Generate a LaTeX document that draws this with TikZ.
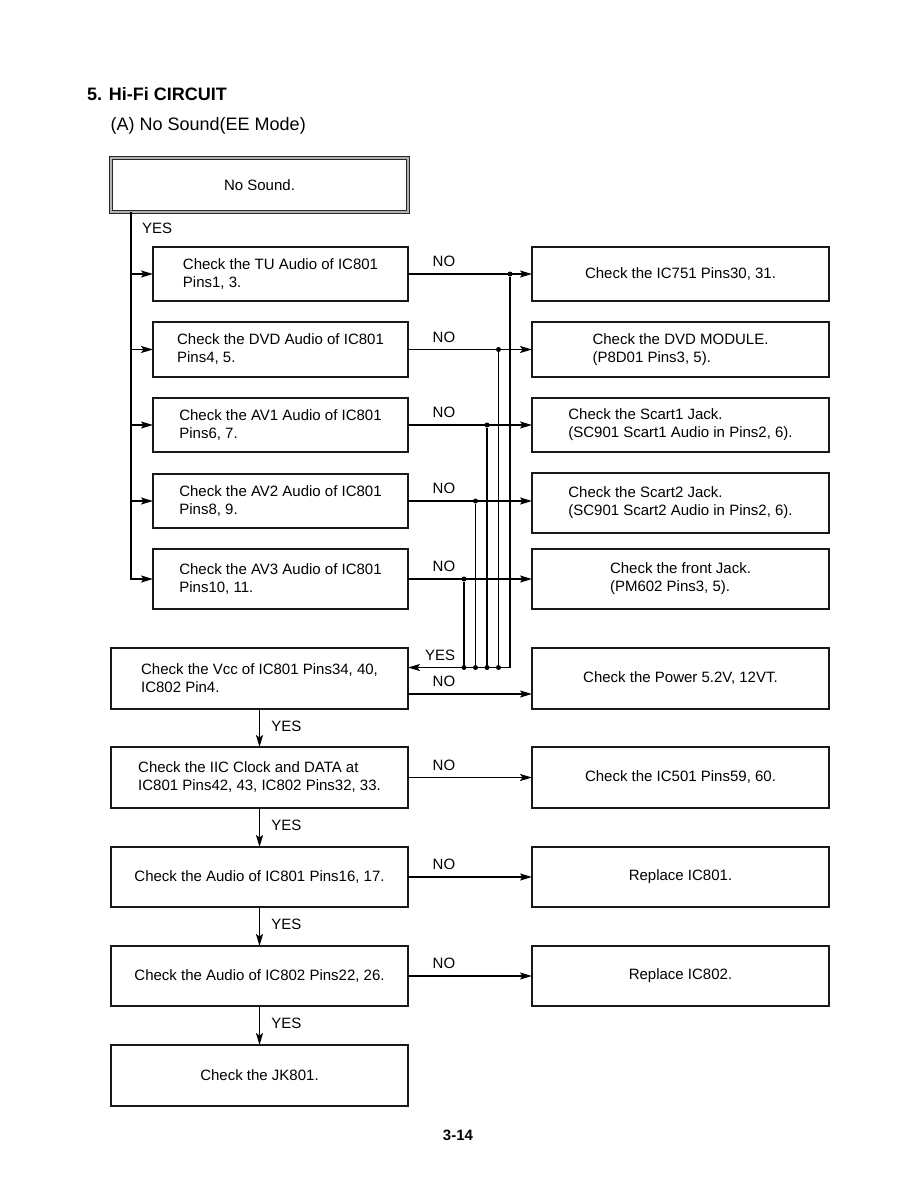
\documentclass[tikz,border=0pt]{standalone}
\usepackage{fontspec}
\setmainfont{Liberation Sans}
\usetikzlibrary{arrows.meta,positioning}
\tikzset{
every picture/.style={line join=miter},
>={Stealth[length=12pt,width=7pt,inset=2.5pt]},
flow box/.style={
  draw=black!90,
  line width=1.4pt,
  align=left,
  inner sep=2pt,
  outer sep=0pt,
  font=\fontsize{15}{18}\selectfont
},
check box/.style={flow box, minimum width=255pt, minimum height=54pt},
wide box/.style={flow box, minimum width=297pt, minimum height=54pt},
start box/.style={wide box, draw=black!85, double=black!30, double distance=1.4pt, line width=0.9pt},
fig flow/.style={draw=black, ->, line width=1.5pt},
bus line/.style={draw=black, line width=1.5pt},
fig label/.style={font=\fontsize{15}{18}\selectfont, inner sep=2pt},
junction/.style={circle, fill=black, inner sep=0pt, minimum size=5pt}
}
\begin{document}
\begin{tikzpicture}[x=1pt,y=-1pt]
\useasboundingbox[fill=white] (0,0) rectangle (915,1191);
% headings
\node[anchor=base west, font=\bfseries\fontsize{18}{21}\selectfont, inner sep=0pt] (title) at (87,100.5) {5. Hi-Fi CIRCUIT};
\node[anchor=base west, font=\fontsize{18}{21}\selectfont, inner sep=0pt] (subtitle) at (110.5,130.5) {(A) No Sound(EE Mode)};
\node[anchor=base, font=\bfseries\fontsize{15}{18}\selectfont, inner sep=0pt] (page) at (458,1140) {3-14};
% input checks
\node[start box] (nosound) at (259.5,185) {No Sound.};
\node[check box] (tu) at (280.5,274) {Check the TU Audio of IC801\\Pins1, 3.};
\node[check box,minimum height=55pt,below=21pt of tu] (dvd) {Check the DVD Audio of IC801\\Pins4, 5.};
\node[check box,below=21pt of dvd] (av1) {Check the AV1 Audio of IC801\\Pins6, 7.};
\node[check box,below=22pt of av1] (av2) {Check the AV2 Audio of IC801\\Pins8, 9.};
\node[check box,minimum height=60pt,below=21pt of av2] (av3) {Check the AV3 Audio of IC801\\Pins10, 11.};
% input faults
\node[wide box,right=124pt of tu] (ic751) {Check the IC751 Pins30, 31.};
\node[wide box,minimum height=55pt,below=21pt of ic751] (module) {Check the DVD MODULE.\\(P8D01 Pins3, 5).};
\node[wide box,below=21pt of module] (scart1) {Check the Scart1 Jack.\\(SC901 Scart1 Audio in Pins2, 6).};
\node[wide box,minimum height=60pt,below=21pt of scart1] (scart2) {Check the Scart2 Jack.\\(SC901 Scart2 Audio in Pins2, 6).};
\node[wide box,minimum height=60pt,right=124pt of av3] (front) {Check the front Jack.\\(PM602 Pins3, 5).};
% main chain
\node[wide box,minimum height=61pt] (vcc) at (259.5,678.5) {Check the Vcc of IC801 Pins34, 40,\\IC802 Pin4.};
\node[wide box,minimum height=61pt,below=38pt of vcc] (iic) {Check the IIC Clock and DATA at\\IC801 Pins42, 43, IC802 Pins32, 33.};
\node[wide box,minimum height=60pt,below=39pt of iic] (audio801) {Check the Audio of IC801 Pins16, 17.};
\node[wide box,minimum height=60pt,below=39pt of audio801] (audio802) {Check the Audio of IC802 Pins22, 26.};
\node[wide box,minimum height=61pt,below=39pt of audio802] (jk) {Check the JK801.};
\node[wide box,minimum height=61pt,right=124pt of vcc] (power) {Check the Power 5.2V, 12VT.};
\node[wide box,minimum height=61pt,right=124pt of iic] (ic501) {Check the IC501 Pins59, 60.};
\node[wide box,minimum height=60pt,right=124pt of audio801] (rep801) {Replace IC801.};
\node[wide box,minimum height=60pt,right=124pt of audio802] (rep802) {Replace IC802.};
% YES trunk
\coordinate (trunk) at (131,212);
\node[fig label, anchor=west, inner sep=0pt] (yes0) at (142,228) {YES};
\foreach \chk in {tu,dvd,av1,av2,av3}
  \draw[fig flow] (trunk) |- (\chk.west);
% NO branches
\foreach \chk/\res in {tu/ic751,dvd/module,av1/scart1,av2/scart2,av3/front}
  \draw[fig flow] (\chk.east) -- node[fig label,above=4.5pt,pos=0.29] {NO} (\chk.east -| \res.west);
% OK bus back to Vcc
\coordinate (busin) at ([yshift=11pt]vcc.east);
\foreach \x/\y [count=\i] in {510/274,498.5/349.5,487/425,475.5/501,464/579}
  \node[junction] (jn\i) at (\x,\y) {};
\foreach \i in {1,...,5}
  \draw[bus line] (jn\i) -- (jn\i |- busin);
\foreach \i in {2,...,5}
  \node[junction] at (jn\i |- busin) {};
\draw[fig flow] (jn1 |- busin) -- node[fig label,above=4.5pt,pos=0.685] {YES} (busin);
\coordinate (vccno) at ([yshift=-15.5pt]vcc.east);
\draw[fig flow] (vccno) -- node[fig label,above=4.5pt,pos=0.29] {NO} (vccno -| power.west);
% main chain arrows
\foreach \a/\b in {vcc/iic,iic/audio801,audio801/audio802,audio802/jk}
  \draw[fig flow] (\a) -- node[fig label,right=9pt,pos=0.45] {YES} (\b);
\foreach \a/\b in {iic/ic501,audio801/rep801,audio802/rep802}
  \draw[fig flow] (\a) -- node[fig label,above=4.5pt,pos=0.29] {NO} (\b);
\end{tikzpicture}
\end{document}
